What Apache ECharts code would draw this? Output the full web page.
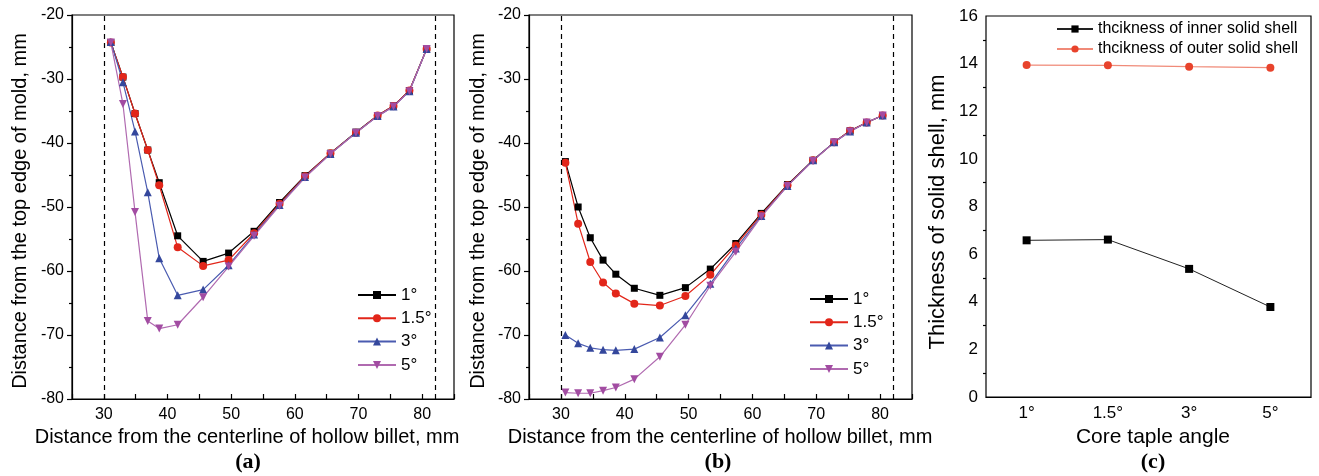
<!DOCTYPE html>
<html>
<head>
<meta charset="utf-8">
<script src="https://cdn.jsdelivr.net/npm/echarts@6/dist/echarts.min.js"></script>
<style>
  html, body { margin: 0; padding: 0; background: #fff; }
  #chart { width: 1319px; height: 476px; }
</style>
</head>
<body>
<div id="chart"></div>
<script>
// Panel (a): solidification front position, x in mm from the billet centerline
const xA = [31.1, 33.0, 34.9, 36.9, 38.7, 41.6, 45.6, 49.6, 53.6, 57.6, 61.6, 65.6, 69.6, 73.0, 75.5, 78.0, 80.7];
const a1 = [-24.3, -29.7, -35.4, -41.1, -46.2, -54.5, -58.5, -57.2, -53.8, -49.3, -45.1, -41.6, -38.3, -35.7, -34.2, -31.8, -25.3];
const a15 = [-24.3, -29.7, -35.4, -41.1, -46.6, -56.3, -59.2, -58.3, -54.1, -49.5, -45.2, -41.6, -38.4, -35.7, -34.2, -31.8, -25.3];
const a3 = [-24.2, -30.5, -38.2, -47.7, -58.0, -63.8, -62.9, -59.1, -54.3, -49.7, -45.3, -41.7, -38.4, -35.8, -34.3, -31.9, -25.3];
const a5 = [-24.3, -33.9, -50.8, -67.8, -69.0, -68.4, -64.1, -59.3, -54.5, -49.8, -45.4, -41.7, -38.4, -35.8, -34.3, -31.9, -25.3];

// Panel (b)
const xB = [30.7, 32.7, 34.6, 36.6, 38.6, 41.5, 45.5, 49.5, 53.4, 57.4, 61.4, 65.5, 69.5, 72.8, 75.3, 77.9, 80.4];
const b1 = [-42.9, -50.0, -54.8, -58.3, -60.5, -62.7, -63.8, -62.6, -59.7, -55.7, -51.0, -46.5, -42.7, -39.9, -38.1, -36.8, -35.7];
const b15 = [-43.1, -52.6, -58.6, -61.8, -63.5, -65.1, -65.4, -63.9, -60.6, -56.0, -51.2, -46.6, -42.7, -39.9, -38.1, -36.8, -35.7];
const b3 = [-70.0, -71.3, -72.0, -72.3, -72.4, -72.2, -70.4, -66.9, -62.0, -56.5, -51.4, -46.7, -42.7, -39.9, -38.2, -36.8, -35.7];
const b5 = [-79.0, -79.1, -79.1, -78.7, -78.2, -76.9, -73.4, -68.4, -62.3, -57.0, -51.5, -46.7, -42.8, -39.9, -38.2, -36.8, -35.7];

// Panel (c): shell thickness against core taper angle
const angles = ['1°', '1.5°', '3°', '5°'];
const innerShell = [6.58, 6.61, 5.38, 3.78];
const outerShell = [13.94, 13.93, 13.87, 13.83];

const seriesNames = ['1°', '1.5°', '3°', '5°'];
const moldWalls = [30, 82];

const FONT = 'Liberation Sans, Arial, sans-serif';
const styles = [
  { color: '#000000', line: '#000000', symbol: 'rect', size: 7 },
  { color: '#e2261a', line: '#e2261a', symbol: 'circle', size: 8 },
  { color: '#34479c', line: '#4a5bb0', symbol: 'triangle', size: 8 },
  { color: '#a24ca2', line: '#b06ab0', symbol: 'path://M0,0 L10,0 L5,9 Z', size: 8 }
];

function pairs(xs, ys) { return xs.map((x, i) => [x, ys[i]]); }

function lineSeries(name, data, idx, st) {
  return {
    name: name, type: 'line', xAxisIndex: idx, yAxisIndex: idx, data: data,
    symbol: st.symbol, symbolSize: st.size, showSymbol: true,
    itemStyle: { color: st.color },
    lineStyle: { color: st.line, width: 1.2 },
    emphasis: { disabled: true }, animation: false, z: 3
  };
}

function wallMarks(idx) {
  return {
    type: 'line', xAxisIndex: idx, yAxisIndex: idx, data: [], silent: true, animation: false,
    markLine: {
      symbol: 'none', silent: true, animation: false, label: { show: false },
      lineStyle: { type: [5, 4], color: '#000', width: 1.2 },
      data: moldWalls.map(v => ({ xAxis: v }))
    }
  };
}

function distX(idx) {
  return {
    type: 'value', gridIndex: idx, min: 25, max: 85, interval: 5,
    axisLine: { lineStyle: { color: '#000', width: 1.2 } },
    axisTick: { inside: true, length: 5, lineStyle: { color: '#000', width: 1.2 } },
    axisLabel: { color: '#000', fontSize: 16, fontFamily: FONT, margin: 8,
      formatter: v => (v % 10 === 0 ? String(v) : '') },
    splitLine: { show: false }
  };
}

function distY(idx) {
  return {
    type: 'value', gridIndex: idx, min: -80, max: -20, interval: 10,
    axisLine: { lineStyle: { color: '#000', width: 1.2 } },
    axisTick: { length: 5, lineStyle: { color: '#000', width: 1.2 } },
    minorTick: { show: true, splitNumber: 2, length: 3, lineStyle: { color: '#000', width: 1.2 } },
    axisLabel: { color: '#000', fontSize: 16, fontFamily: FONT, margin: 8 },
    splitLine: { show: false }
  };
}

function legendAt(left, top, names) {
  return {
    orient: 'vertical', left: left, top: top, data: names, padding: 0,
    itemWidth: 38, itemHeight: 10, itemGap: 6.3,
    textStyle: { fontSize: 17, fontFamily: FONT, color: '#000', lineHeight: 17 },
    selectedMode: false
  };
}

function titleText(x, y, text, size, rotate) {
  return {
    type: 'text', x: x, y: y, rotation: rotate ? Math.PI / 2 : 0, silent: true,
    style: { text: text, fontSize: size, fontFamily: FONT, fill: '#000',
      textAlign: 'center', textVerticalAlign: 'middle' }
  };
}

function panelTag(x, text) {
  return {
    type: 'text', x: x, y: 462, silent: true,
    style: { text: text, fontSize: 22, fontWeight: 'bold',
      fontFamily: 'Liberation Serif, Times New Roman, serif', fill: '#000',
      textAlign: 'center', textVerticalAlign: 'middle' }
  };
}

const series = [];
[a1, a15, a3, a5].forEach((ys, i) => series.push(lineSeries(seriesNames[i], pairs(xA, ys), 0, styles[i])));
[b1, b15, b3, b5].forEach((ys, i) => series.push(lineSeries(seriesNames[i], pairs(xB, ys), 1, styles[i])));
series.push(wallMarks(0), wallMarks(1));

series.push({
  name: 'thcikness of inner solid shell', type: 'line', xAxisIndex: 2, yAxisIndex: 2,
  data: innerShell, symbol: 'rect', symbolSize: 8,
  itemStyle: { color: '#000' }, lineStyle: { color: '#222', width: 1 },
  emphasis: { disabled: true }, animation: false
});
series.push({
  name: 'thcikness of outer solid shell', type: 'line', xAxisIndex: 2, yAxisIndex: 2,
  data: outerShell, symbol: 'circle', symbolSize: 8,
  itemStyle: { color: '#e8432c' }, lineStyle: { color: '#f08a78', width: 1.2 },
  emphasis: { disabled: true }, animation: false
});

const option = {
  backgroundColor: '#fff',
  animation: false,
  grid: [
    { left: 72, top: 15, width: 382, height: 384, show: true, borderColor: '#000', borderWidth: 1.2, backgroundColor: 'transparent' },
    { left: 529, top: 15, width: 383, height: 384, show: true, borderColor: '#000', borderWidth: 1.2, backgroundColor: 'transparent' },
    { left: 986, top: 16, width: 325, height: 381, show: true, borderColor: '#000', borderWidth: 1.2, backgroundColor: 'transparent' }
  ],
  xAxis: [
    distX(0), distX(1),
    {
      type: 'category', gridIndex: 2, data: angles, boundaryGap: true,
      axisLine: { lineStyle: { color: '#000', width: 1.2 } },
      axisTick: { inside: true, alignWithLabel: true, length: 5, lineStyle: { color: '#000', width: 1.2 } },
      axisLabel: { color: '#000', fontSize: 17, fontFamily: FONT, margin: 8 }
    }
  ],
  yAxis: [
    distY(0), distY(1),
    {
      type: 'value', gridIndex: 2, min: 0, max: 16, interval: 2,
      axisLine: { lineStyle: { color: '#000', width: 1.2 } },
      axisTick: { length: 5, lineStyle: { color: '#000', width: 1.2 } },
      minorTick: { show: true, splitNumber: 2, length: 3, lineStyle: { color: '#000', width: 1.2 } },
      axisLabel: { color: '#000', fontSize: 17, fontFamily: FONT, margin: 8 },
      splitLine: { show: false }
    }
  ],
  legend: [
    legendAt(357, 286.5, seriesNames),
    legendAt(809, 290.5, seriesNames),
    {
      orient: 'vertical', left: 1056, top: 21, selectedMode: false, padding: 0,
      data: ['thcikness of inner solid shell', 'thcikness of outer solid shell'],
      itemWidth: 36, itemHeight: 9, itemGap: 4,
      textStyle: { fontSize: 16, fontFamily: FONT, color: '#000', lineHeight: 16 }
    }
  ],
  graphic: [
    titleText(20, 211, 'Distance from the top edge of mold, mm', 20, true),
    titleText(478, 211, 'Distance from the top edge of mold, mm', 20, true),
    titleText(938, 212, 'Thickness of solid shell, mm', 22, true),
    titleText(247, 437, 'Distance from the centerline of hollow billet, mm', 20, false),
    titleText(720, 437, 'Distance from the centerline of hollow billet, mm', 20, false),
    titleText(1153, 437, 'Core taple angle', 21, false),
    panelTag(248, '(a)'),
    panelTag(718, '(b)'),
    panelTag(1153, '(c)')
  ],
  series: series
};

const chart = echarts.init(document.getElementById('chart'), null, { renderer: 'canvas' });
chart.setOption(option);
</script>
</body>
</html>
